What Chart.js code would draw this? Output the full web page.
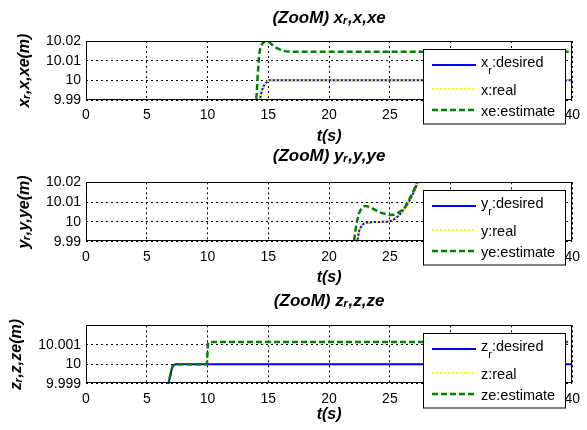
<!DOCTYPE html>
<html>
<head>
<meta charset="utf-8">
<script src="https://cdn.jsdelivr.net/npm/chart.js@4.4.0/dist/chart.umd.min.js"></script>
<style>
  html, body { margin: 0; padding: 0; background: #fff; }
  #wrap { position: relative; width: 587px; height: 430px; }
  canvas { position: absolute; left: 0; }
</style>
</head>
<body>
<div id="wrap">
  <canvas id="cx" width="587" height="146" style="top:0px"></canvas>
  <canvas id="cy" width="587" height="142" style="top:146px"></canvas>
  <canvas id="cz" width="587" height="142" style="top:288px"></canvas>
</div>
<script>
// time ticks shared by the three panels
const tTicks = [0, 5, 10, 15, 20, 25, 30, 35, 40];

// ---- x panel ----
const xTicks   = [9.99, 10, 10.01, 10.02];
const xLabels  = ['x_r:desired', 'x:real', 'xe:estimate'];
const xDesT    = [14.25, 14.32, 14.4, 14.48, 14.58, 14.67, 14.76, 14.86, 14.96, 15.08, 40];
const xDes     = [9.986, 9.99, 9.9928, 9.995, 9.9965, 9.9976, 9.9984, 9.999, 9.9996, 10.0, 10.0];
const xRealT   = [14.25, 14.32, 14.4, 14.48, 14.58, 14.67, 14.76, 14.86, 14.96, 15.08, 40];
const xReal    = [9.986, 9.99, 9.9928, 9.995, 9.9965, 9.9976, 9.9984, 9.999, 9.9996, 10.0, 10.0];
const xEstT    = [13.95, 14.0, 14.07, 14.13, 14.2, 14.26, 14.35, 14.5, 14.7, 14.9, 15.1, 15.35, 15.75, 16.2, 16.7, 17.5, 40];
const xEst     = [9.986, 9.99, 9.996, 10.0027, 10.009, 10.0135, 10.0165, 10.0185, 10.0197, 10.02, 10.0192, 10.0179, 10.0162, 10.0151, 10.0146, 10.0145, 10.0145];

// ---- y panel ----
const yTicks   = [9.99, 10, 10.01, 10.02];
const yLabels  = ['y_r:desired', 'y:real', 'ye:estimate'];
const yDesT    = [22.25, 22.32, 22.46, 22.6, 22.73, 22.9, 23.14, 23.6, 24.2, 24.92, 25.2, 25.46, 25.75, 26.0, 26.3, 26.56, 26.77, 26.97, 27.24, 27.5];
const yDes     = [9.986, 9.99, 9.9952, 9.9972, 9.9985, 9.9993, 9.9997, 9.9999, 10.0, 10.0002, 10.0008, 10.0018, 10.0033, 10.0052, 10.0076, 10.0102, 10.0127, 10.0152, 10.0193, 10.0245];
const yRealT   = [22.25, 22.32, 22.46, 22.6, 22.73, 22.9, 23.14, 23.6, 24.2, 24.92, 25.2, 25.46, 25.75, 26.0, 26.3, 26.56, 26.77, 26.97, 27.24, 27.5];
const yReal    = [9.986, 9.99, 9.9952, 9.9972, 9.9985, 9.9993, 9.9997, 9.9999, 10.0, 10.0002, 10.0008, 10.0018, 10.0033, 10.0052, 10.0076, 10.0102, 10.0127, 10.0152, 10.0193, 10.0245];
const yEstT    = [21.98, 22.05, 22.19, 22.32, 22.46, 22.65, 22.95, 23.25, 23.55, 23.9, 24.24, 24.6, 24.92, 25.25, 25.6, 25.9, 26.15, 26.35, 26.56, 26.77, 26.97, 27.16, 27.4];
const yEst     = [9.986, 9.99, 9.9968, 10.001, 10.0043, 10.0067, 10.008, 10.0077, 10.0068, 10.0057, 10.0047, 10.004, 10.0035, 10.0036, 10.0043, 10.0055, 10.0068, 10.0087, 10.011, 10.0135, 10.016, 10.0193, 10.024];

// ---- z panel ----
const zTicks   = [9.999, 10, 10.001];
const zLabels  = ['z_r:desired', 'z:real', 'ze:estimate'];
const zDesT    = [6.75, 6.8, 6.87, 6.94, 7.02, 7.1, 7.25, 7.43, 40];
const zDes     = [9.9988, 9.999, 9.99925, 9.99944, 9.99966, 9.99985, 9.99996, 10.0, 10.0];
const zRealT   = [6.75, 6.8, 6.87, 6.94, 7.02, 7.1, 7.25, 7.43, 40];
const zReal    = [9.9988, 9.999, 9.99925, 9.99944, 9.99966, 9.99985, 9.99996, 10.0, 10.0];
const zEstT    = [6.75, 6.8, 6.87, 6.94, 7.02, 7.1, 7.25, 7.43, 9.92, 9.97, 10.0, 10.03, 10.08, 10.15, 40];
const zEst     = [9.9988, 9.999, 9.99925, 9.99944, 9.99966, 9.99985, 9.99996, 10.0, 10.0, 10.0002, 10.0007, 10.00105, 10.00112, 10.00114, 10.00114];

Chart.defaults.font.family = '"Liberation Sans", Arial, Helvetica, sans-serif';
Chart.defaults.color = '#000';

const BLUE = '#0000ff', YELLOW = '#ffff00', GREEN = '#008000';
const boldIt = size => ({size: size, weight: 'bold', style: 'italic'});

function pts(t, v) {
    return t.map((tt, i) => ({x: tt, y: v[i]}));
}

function fmt(v) {
    return String(parseFloat(v.toFixed(4)));
}

// axes box + matlab style legend drawn on top of everything
const frameLegend = {
    id: 'frameLegend',
    afterDraw(chart, args, opts) {
        const ctx = chart.ctx;
        const a = chart.chartArea;
        ctx.save();
        ctx.strokeStyle = '#000';
        ctx.lineWidth = 1;
        ctx.strokeRect(Math.round(a.left) + 0.5, Math.round(a.top) + 0.5,
                       Math.round(a.width) - 1, Math.round(a.height) - 1);

        const bx = Math.round(a.right - opts.right - opts.width);
        const by = Math.round(a.top + opts.top);
        ctx.fillStyle = '#fff';
        ctx.fillRect(bx, by, opts.width, opts.height);
        ctx.strokeRect(bx + 0.5, by + 0.5, opts.width, opts.height);

        chart.data.datasets.forEach((ds, i) => {
            const y = by + opts.rows[i];
            ctx.save();
            ctx.strokeStyle = ds.borderColor;
            ctx.lineWidth = ds.borderWidth;
            ctx.setLineDash(ds.borderDash || []);
            ctx.beginPath();
            ctx.moveTo(bx + 9, y);
            ctx.lineTo(bx + 53, y);
            ctx.stroke();
            ctx.restore();

            ctx.fillStyle = '#000';
            ctx.textBaseline = 'alphabetic';
            ctx.textAlign = 'left';
            let x = bx + 58;
            const parts = ds.label.split('_');
            if (parts.length > 1) {
                const base = y + 1.7;
                ctx.font = '14.5px "Liberation Sans", Arial, sans-serif';
                ctx.fillText(parts[0], x, base);
                x += ctx.measureText(parts[0]).width;
                ctx.font = '11px "Liberation Sans", Arial, sans-serif';
                ctx.fillText(parts[1][0], x, base + 7);
                x += ctx.measureText(parts[1][0]).width;
                ctx.font = '14.5px "Liberation Sans", Arial, sans-serif';
                ctx.fillText(parts[1].slice(1), x, base);
            } else {
                ctx.font = '14.5px "Liberation Sans", Arial, sans-serif';
                ctx.fillText(ds.label, x, y + 5.7);
            }
        });
        ctx.restore();
    }
};

function panel(id, cfg) {
    const canvas = document.getElementById(id);
    const H = canvas.height;
    const order = cfg.realUnder ? [2, 3, 1] : [3, 2, 1];
    new Chart(canvas, {
        type: 'line',
        data: {
            datasets: [
                {
                    label: cfg.labels[0],
                    data: pts(cfg.desT, cfg.des),
                    borderColor: BLUE,
                    borderWidth: 2,
                    order: order[0]
                },
                {
                    label: cfg.labels[1],
                    data: pts(cfg.realT, cfg.real),
                    borderColor: YELLOW,
                    borderWidth: 2,
                    borderDash: [2, 2],
                    order: order[1]
                },
                {
                    label: cfg.labels[2],
                    data: pts(cfg.estT, cfg.est),
                    borderColor: GREEN,
                    borderWidth: 2.5,
                    borderDash: [6, 3],
                    order: order[2]
                }
            ]
        },
        options: {
            responsive: false,
            animation: false,
            devicePixelRatio: 1,
            elements: {
                point: {radius: 0},
                line: {cubicInterpolationMode: 'monotone', fill: false}
            },
            layout: {padding: {left: 0, right: 13, top: 0, bottom: 0}},
            plugins: {
                legend: {display: false},
                tooltip: {enabled: false},
                title: {
                    display: true,
                    fullSize: false,
                    text: cfg.title,
                    font: boldIt(17),
                    color: '#000',
                    padding: {top: cfg.titleTop, bottom: cfg.titleBottom}
                },
                frameLegend: {right: 7, top: 7.5, width: 142, height: 74.5, rows: [16, 40, 61]}
            },
            scales: {
                x: {
                    type: 'linear',
                    min: 0,
                    max: 40,
                    afterBuildTicks: s => { s.ticks = tTicks.map(v => ({value: v})); },
                    afterFit: s => { s.height = H - cfg.areaBottom; },
                    ticks: {font: {size: 14}, padding: 7, maxRotation: 0, autoSkip: false, callback: v => fmt(v)},
                    grid: {color: '#000', lineWidth: 1, drawTicks: false},
                    border: {display: false, dash: [2, 3]},
                    title: {display: true, text: 't(s)', font: boldIt(16), padding: {top: 0, bottom: cfg.tBottom}}
                },
                y: {
                    type: 'linear',
                    min: cfg.yMin,
                    max: cfg.yMax,
                    afterBuildTicks: s => { s.ticks = cfg.yTicks.map(v => ({value: v})); },
                    afterFit: s => { s.width = 86; },
                    ticks: {font: {size: 14}, padding: 5, autoSkip: false, callback: v => fmt(v)},
                    grid: {color: '#000', lineWidth: 1, drawTicks: false},
                    border: {display: false, dash: [2, 3]},
                    title: {display: true, text: cfg.yTitle, font: boldIt(16), padding: {top: cfg.yTitlePad, bottom: 0}}
                }
            }
        },
        plugins: [frameLegend]
    });
}

panel('cx', {
    title: '(ZooM) xᵣ,x,xe', yTitle: 'xᵣ,x,xe(m)', labels: xLabels,
    desT: xDesT, des: xDes, realT: xRealT, real: xReal, estT: xEstT, est: xEst,
    yMin: 9.99, yMax: 10.02, yTicks: xTicks,
    titleTop: 7.8, titleBottom: 12.8, areaBottom: 100, tBottom: -0.6, yTitlePad: 14.9
});
panel('cy', {
    title: '(ZooM) yᵣ,y,ye', yTitle: 'yᵣ,y,ye(m)', labels: yLabels,
    desT: yDesT, des: yDes, realT: yRealT, real: yReal, estT: yEstT, est: yEst,
    yMin: 9.99, yMax: 10.02, yTicks: yTicks,
    titleTop: -0.2, titleBottom: 16.1, areaBottom: 95.7, tBottom: 0.4, yTitlePad: 14.9
});
panel('cz', {
    title: '(ZooM) zᵣ,z,ze', yTitle: 'zᵣ,z,ze(m)', labels: zLabels,
    desT: zDesT, des: zDes, realT: zRealT, real: zReal, estT: zEstT, est: zEst,
    yMin: 9.999, yMax: 10.002, yTicks: zTicks, realUnder: true,
    titleTop: 2.8, titleBottom: 14.1, areaBottom: 95.7, tBottom: 5.4, yTitlePad: 7.1
});
</script>
</body>
</html>
